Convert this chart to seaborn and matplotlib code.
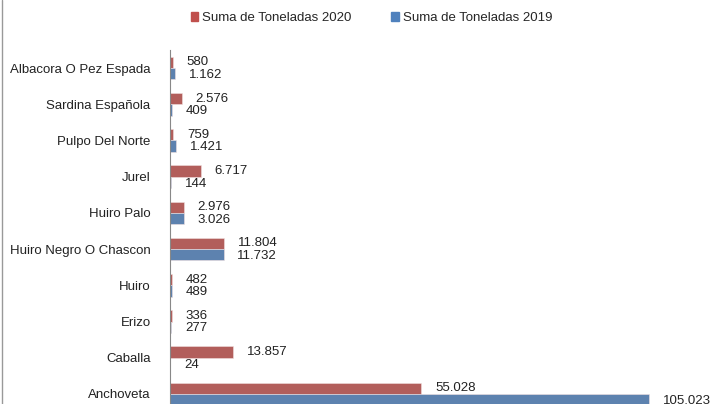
import pandas as pd
import seaborn as sns
import matplotlib.pyplot as plt
from matplotlib.lines import Line2D

# Data (top to bottom)
especies = ['Albacora O Pez Espada', 'Sardina Española', 'Pulpo Del Norte', 'Jurel',
            'Huiro Palo', 'Huiro Negro O Chascon', 'Huiro', 'Erizo', 'Caballa', 'Anchoveta']
ton_2020 = [580, 2576, 759, 6717, 2976, 11804, 482, 336, 13857, 55028]
ton_2019 = [1162, 409, 1421, 144, 3026, 11732, 489, 277, 24, 105023]

series = ['Suma de Toneladas 2020', 'Suma de Toneladas 2019']
colors = ['#C0504D', '#4F81BD']

df = pd.DataFrame({
    'Especie': especies * 2,
    'Toneladas': ton_2020 + ton_2019,
    'Serie': [series[0]] * len(especies) + [series[1]] * len(especies),
})

sns.set_style('white')
plt.rcParams['font.family'] = ['Liberation Sans', 'DejaVu Sans']
fs = 9.5

fig = plt.figure(figsize=(7.12, 4.04), dpi=100)
# the reference is a crop: axes run past the bottom and right edge
ax = fig.add_axes([170 / 712, -8 / 404, 1 - 170 / 712, 362 / 404])

sns.barplot(data=df, y='Especie', x='Toneladas', hue='Serie', order=especies,
            hue_order=series, palette=colors, width=0.62, orient='h',
            edgecolor='#f0e0e0', linewidth=0.4, ax=ax)

ax.set_xlim(0, 118800)
ax.set_xlabel('')
ax.set_ylabel('')
ax.set_xticks([])
ax.tick_params(axis='y', length=0, pad=14, labelsize=fs, labelcolor='#222222')
for s in ['top', 'right', 'bottom']:
    ax.spines[s].set_visible(False)
ax.spines['left'].set_color('#888888')
ax.spines['left'].set_linewidth(0.8)

# value labels with Spanish thousands separator
for cont, dy in zip(ax.containers, [0, -1]):
    labels = [f"{int(v):,}".replace(',', '.') for v in cont.datavalues]
    anns = ax.bar_label(cont, labels=labels, padding=10, fontsize=fs, color='#222222')
    for a in anns:
        a.xyann = (10, dy)

handles = [plt.Rectangle((0, 0), 1, 1, color=c) for c in colors]
ax.get_legend().remove()
fig.legend(handles, series, loc='center', bbox_to_anchor=(0.522, 0.955), ncol=2,
           frameon=False, fontsize=fs, handlelength=0.6, handleheight=0.6,
           handletextpad=0.3, columnspacing=3.0)

# chart frame edge visible on the left
fig.add_artist(Line2D([2 / 712, 2 / 712], [0, 1], color='#999999', linewidth=1))

plt.savefig('out.png', dpi=100)
